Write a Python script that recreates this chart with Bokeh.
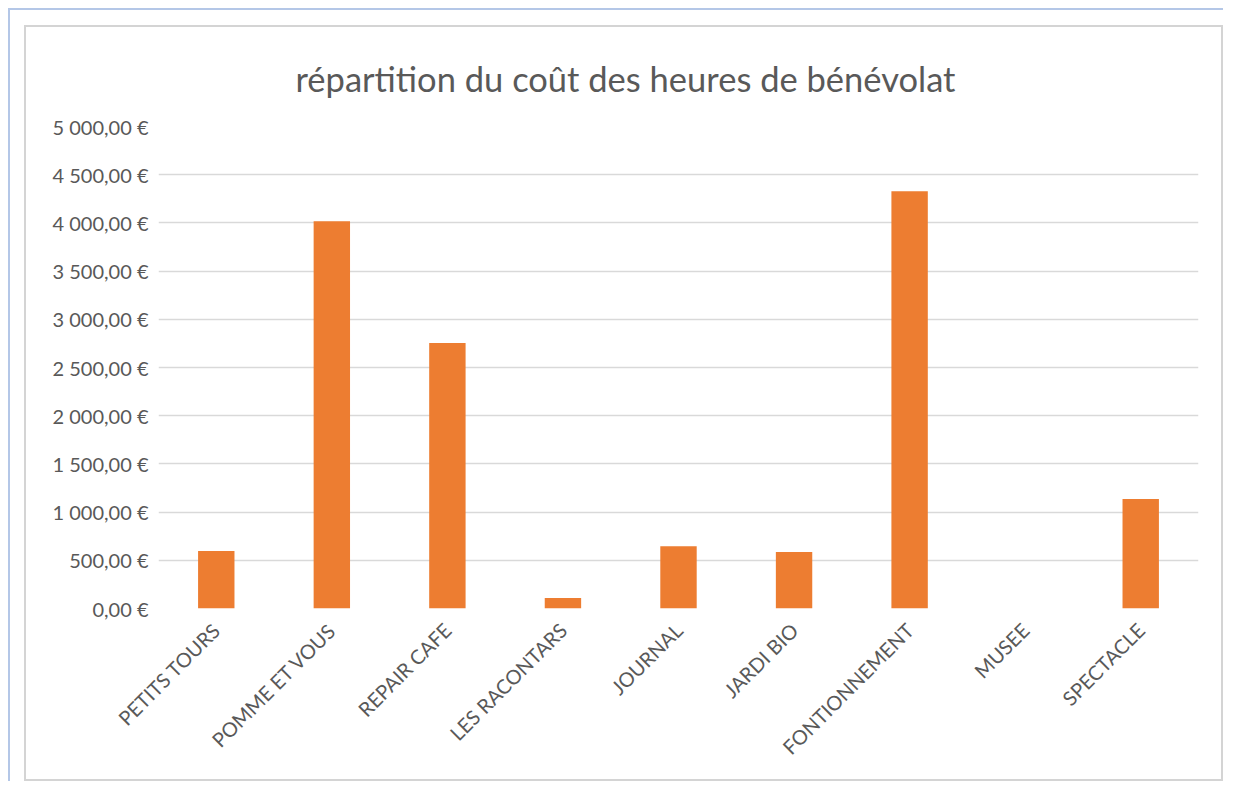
from bokeh.plotting import figure
from bokeh.layouts import column
from bokeh.models import FixedTicker, CustomJSTickFormatter, FactorRange, Range1d
from bokeh.embed import file_html
from bokeh.resources import INLINE
import math

categories = ["PETITS TOURS", "POMME ET VOUS", "REPAIR CAFE", "LES RACONTARS",
              "JOURNAL", "JARDI BIO", "FONTIONNEMENT", "MUSEE", "SPECTACLE"]
costs = [597, 4018, 2755, 110, 646, 586, 4329, 0, 1136]
y_ticks = [0, 500, 1000, 1500, 2000, 2500, 3000, 3500, 4000, 4500, 5000]
title_text = "répartition du coût des heures de bénévolat"

TXT = "#595959"
FONT = "Lato"

p = figure(
    x_range=FactorRange(*categories, range_padding=0),
    y_range=Range1d(0, 5000),
    width=1199, height=756,
    output_backend="svg", toolbar_location=None,
    min_border_left=132, min_border_right=27,
    min_border_top=99, min_border_bottom=175,
    title=title_text,
    margin=(15, 0, 0, 14),
    styles={"border": "2px solid #d4d4d4"},
)
p.outline_line_color = None
p.background_fill_color = "white"
p.border_fill_color = "white"

p.title.text_font = FONT
p.title.text_font_size = "34.5px"
p.title.text_font_style = "normal"
p.title.text_color = TXT
p.title.align = "left"
p.title.offset = 137
p.title.standoff = 55

p.vbar(x=categories, top=costs, width=0.315, fill_color="#ed7d31", line_color=None)

p.yaxis.ticker = FixedTicker(ticks=y_ticks)
p.yaxis.formatter = CustomJSTickFormatter(code="""
    const s = tick.toFixed(2).split('.');
    const ip = s[0].replace(/\\B(?=(\\d{3})+(?!\\d))/g, ' ');
    return ip + ',' + s[1] + ' €';
""")
for ax in (p.xaxis, p.yaxis):
    ax.axis_line_color = None
    ax.major_tick_line_color = None
    ax.minor_tick_line_color = None
    ax.major_label_text_color = TXT
    ax.major_label_text_font = FONT
    ax.major_label_text_font_size = "20px"
p.yaxis.major_label_standoff = 4
p.xaxis.major_label_orientation = math.pi / 4
p.xaxis.major_label_standoff = 12

p.xgrid.grid_line_color = None
p.ygrid.grid_line_color = "#d9d9d9"
p.ygrid.grid_line_width = 1.5

layout = column(p, margin=(8, 0, 0, 8),
                styles={"border-top": "2px solid #b4c7e7",
                        "border-left": "2px solid #b4c7e7",
                        "background": "white"})

open("out.html", "w").write(file_html(layout, INLINE))
